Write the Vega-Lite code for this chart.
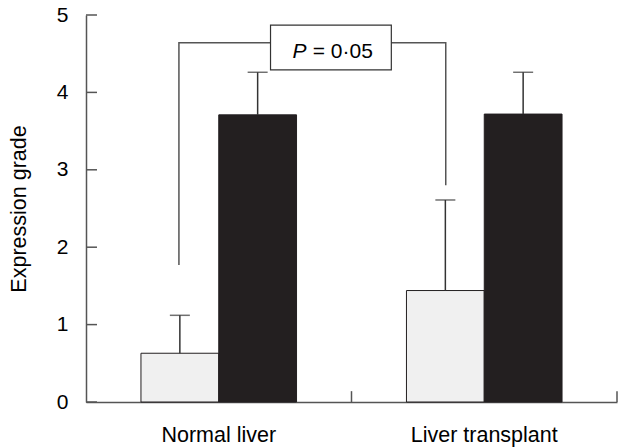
{
  "$schema": "https://vega.github.io/schema/vega-lite/v6.json",
  "width": 531,
  "height": 387,
  "autosize": {"type": "none"},
  "padding": {"left": 86, "top": 15, "right": 1, "bottom": 45},
  "config": {"view": {"stroke": null}, "font": "Liberation Sans"},
  "datasets": {
    "bars": [
      {"group": "Normal liver", "series": "Group A", "value": 0.63, "upper": 1.12},
      {"group": "Normal liver", "series": "Group B", "value": 3.71, "upper": 4.26},
      {"group": "Liver transplant", "series": "Group A", "value": 1.44, "upper": 2.61},
      {"group": "Liver transplant", "series": "Group B", "value": 3.72, "upper": 4.26}
    ],
    "bracket": [
      {"ax": 0.85, "ay": 1.77, "k": 1},
      {"ax": 0.85, "ay": 4.64, "k": 2},
      {"ax": 1.855, "ay": 4.64, "k": 3},
      {"ax": 1.855, "ay": 2.8, "k": 4}
    ],
    "box": [{"ax": 1.195, "ax2": 1.65, "ay": 4.29, "ay2": 4.87}],
    "ptext": [{"ax": 1.278, "ay": 4.44, "t": "P"}],
    "vtext": [{"ax": 1.354, "ay": 4.44, "t": "= 0·05"}],
    "yticks": [
      {"ax": 0.5, "ax2": 0.5414, "ay": 0},
      {"ax": 0.5, "ax2": 0.5414, "ay": 1},
      {"ax": 0.5, "ax2": 0.5414, "ay": 2},
      {"ax": 0.5, "ax2": 0.5414, "ay": 3},
      {"ax": 0.5, "ax2": 0.5414, "ay": 4},
      {"ax": 0.5, "ax2": 0.5414, "ay": 5}
    ],
    "xticks": [
      {"ax": 1.5, "ay": 0, "ay2": 0.14},
      {"ax": 2.5, "ay": 0, "ay2": 0.14}
    ]
  },
  "resolve": {"scale": {"x": "independent"}, "axis": {"x": "independent"}},
  "layer": [
    {
      "layer": [
        {
          "data": {"name": "bars"},
          "mark": {"type": "bar", "stroke": "#231f20", "strokeWidth": 1},
          "encoding": {
            "x": {
              "field": "group", "type": "nominal", "sort": ["Normal liver", "Liver transplant"],
              "scale": {"paddingInner": 0.414, "paddingOuter": 0.207},
              "axis": {"title": null, "labelAngle": 0, "ticks": false, "labelPadding": 22, "labelFontSize": 21.5, "labelColor": "#000", "domainColor": "#555", "domainWidth": 1.5}
            },
            "xOffset": {"field": "series", "type": "nominal", "sort": ["Group A", "Group B"], "scale": {"paddingInner": 0, "paddingOuter": 0}},
            "y": {
              "field": "value", "type": "quantitative", "title": "Expression grade",
              "scale": {"domain": [0, 5], "nice": false},
              "axis": {"values": [0, 1, 2, 3, 4, 5], "format": "d", "grid": false, "ticks": false, "domainColor": "#555", "domainWidth": 1.5, "labelPadding": 18, "labelFontSize": 21, "labelColor": "#000", "titleFontSize": 21.5, "titleFontWeight": "normal", "titleColor": "#000", "titlePadding": 26}
            },
            "fill": {"field": "series", "type": "nominal", "scale": {"domain": ["Group A", "Group B"], "range": ["#f0f0f0", "#231f20"]}, "legend": null}
          }
        },
        {
          "data": {"name": "bars"},
          "mark": {"type": "rule", "color": "#333", "strokeWidth": 1.5},
          "encoding": {
            "x": {"field": "group", "type": "nominal", "sort": ["Normal liver", "Liver transplant"]},
            "xOffset": {"field": "series", "type": "nominal", "sort": ["Group A", "Group B"]},
            "y": {"field": "value", "type": "quantitative", "title": "Expression grade"},
            "y2": {"field": "upper"}
          }
        },
        {
          "data": {"name": "bars"},
          "mark": {"type": "tick", "color": "#333", "size": 20, "thickness": 1.5},
          "encoding": {
            "x": {"field": "group", "type": "nominal", "sort": ["Normal liver", "Liver transplant"]},
            "xOffset": {"field": "series", "type": "nominal", "sort": ["Group A", "Group B"]},
            "y": {"field": "upper", "type": "quantitative", "title": "Expression grade"}
          }
        }
      ]
    },
    {
      "layer": [
        {
          "data": {"name": "bracket"},
          "mark": {"type": "line", "color": "#555", "strokeWidth": 1.5},
          "encoding": {
            "x": {"field": "ax", "type": "quantitative", "scale": {"domain": [0.5, 2.5], "nice": false, "zero": false}, "axis": null},
            "y": {"field": "ay", "type": "quantitative", "title": "Expression grade"},
            "order": {"field": "k"}
          }
        },
        {
          "data": {"name": "box"},
          "mark": {"type": "rect", "fill": "#fff", "stroke": "#333", "strokeWidth": 1.2},
          "encoding": {
            "x": {"field": "ax", "type": "quantitative", "axis": null},
            "x2": {"field": "ax2"},
            "y": {"field": "ay", "type": "quantitative", "title": "Expression grade"},
            "y2": {"field": "ay2"}
          }
        },
        {
          "data": {"name": "ptext"},
          "mark": {"type": "text", "align": "left", "baseline": "alphabetic", "fontSize": 21, "fontStyle": "italic", "color": "#000"},
          "encoding": {
            "x": {"field": "ax", "type": "quantitative", "axis": null},
            "y": {"field": "ay", "type": "quantitative", "title": "Expression grade"},
            "text": {"field": "t"}
          }
        },
        {
          "data": {"name": "vtext"},
          "mark": {"type": "text", "align": "left", "baseline": "alphabetic", "fontSize": 21, "color": "#000"},
          "encoding": {
            "x": {"field": "ax", "type": "quantitative", "axis": null},
            "y": {"field": "ay", "type": "quantitative", "title": "Expression grade"},
            "text": {"field": "t"}
          }
        },
        {
          "data": {"name": "yticks"},
          "mark": {"type": "rule", "color": "#555", "strokeWidth": 1.5},
          "encoding": {
            "x": {"field": "ax", "type": "quantitative", "axis": null},
            "x2": {"field": "ax2"},
            "y": {"field": "ay", "type": "quantitative", "title": "Expression grade"}
          }
        },
        {
          "data": {"name": "xticks"},
          "mark": {"type": "rule", "color": "#555", "strokeWidth": 1.5},
          "encoding": {
            "x": {"field": "ax", "type": "quantitative", "axis": null},
            "y": {"field": "ay", "type": "quantitative", "title": "Expression grade"},
            "y2": {"field": "ay2"}
          }
        }
      ]
    }
  ]
}
